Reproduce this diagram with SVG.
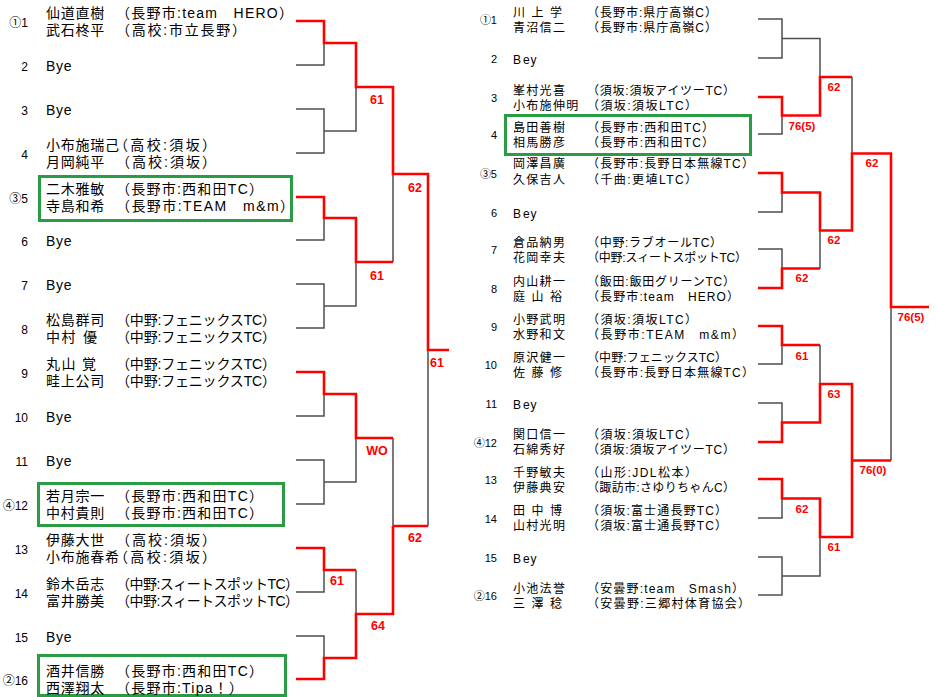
<svg xmlns="http://www.w3.org/2000/svg" width="938" height="697" viewBox="0 0 938 697">
<style>
text{font-family:"Liberation Sans","Noto Sans CJK JP","Noto Sans CJK SC",sans-serif;fill:#000}
.L{font-size:14px}
.R{font-size:12px}
.n{letter-spacing:0.75px}
.rn{letter-spacing:1.3px}
.num{font-size:12px;text-anchor:end}
.rnum{font-size:11px;text-anchor:end}
.sc{font-family:"Liberation Sans",Arial,sans-serif;font-weight:bold;fill:#ff0000;font-size:12.5px;text-anchor:middle}
.rsc{font-family:"Liberation Sans",Arial,sans-serif;font-weight:bold;fill:#ff0000;font-size:11.5px;text-anchor:middle}
.g{fill:none;stroke:#4d4d4d;stroke-width:1.5}
.w{fill:none;stroke:#ff0000;stroke-width:2.6}
.box{fill:none;stroke:#2a9d44;stroke-width:3}
</style>
<rect width="938" height="697" fill="#fff"/>
<g id="connectors">
<path class="g" d="M296,65H324V43M296,109H324V153H296M324,131H356V87M296,240H324V218M393,174V262M296,284H324V328H296M324,306H356V262M296,416H324V394M393,438V526M296,460H324V504H296M324,482H356V438M428,350V526M356,570V614M296,592H324V570M296,636H324V658"/>
<path class="w" d="M296,21H324V43H356V87H393V174H428V350H449M296,197H324V218H356V262H393M296,372H324V394H356V438H393M393,526H428M296,548H324V570H356M296,679H324V658H356V614H393V526"/>
<path class="g" d="M758,19H782V58H758M782,38.5H820V77M758,134H782V115.5M852,77V153.5M758,212H782V192.5M758,249H782V268.5M820,230.5V268.5M891,307V460.5M758,364H782V345M820,345V384M758,403H782V422.5M758,518H782V498.5M758,557H782V595H758M782,576H820V537"/>
<path class="w" d="M758,97H782V115.5H820V77H852M758,173H782V192.5H820V230.5H852V153.5H891V307H929M758,288H782V268.5H820M758,326H782V345H820M758,442H782V422.5H820V384H852V460.5H891M758,479H782V498.5H820V537H852V460.5"/>
</g>
<g id="scores">
<text class="sc" x="377" y="103.5">61</text>
<text class="sc" x="415" y="191.5">62</text>
<text class="sc" x="377" y="279.5">61</text>
<text class="sc" x="437" y="366.5">61</text>
<text class="sc" x="377" y="454.5">WO</text>
<text class="sc" x="415" y="541.5">62</text>
<text class="sc" x="337" y="584.5">61</text>
<text class="sc" x="378" y="629.5">64</text>
<text class="rsc" x="834" y="91">62</text>
<text class="rsc" x="802" y="130">76(5)</text>
<text class="rsc" x="872" y="167">62</text>
<text class="rsc" x="834" y="244">62</text>
<text class="rsc" x="802" y="282">62</text>
<text class="rsc" x="911" y="321">76(5)</text>
<text class="rsc" x="802" y="360">61</text>
<text class="rsc" x="834" y="398">63</text>
<text class="rsc" x="873" y="474">76(0)</text>
<text class="rsc" x="802" y="513">62</text>
<text class="rsc" x="834" y="551">61</text>
</g>
<g id="L1"><text class="num" x="28" y="26.5">①1</text><text class="L"><tspan class="n" x="46" y="18">仙道直樹</tspan><tspan x="116" y="18" textLength="177" lengthAdjust="spacing">（長野市:team　HERO）</tspan><tspan class="n" x="46" y="35">武石柊平</tspan><tspan x="116" y="35" textLength="130" lengthAdjust="spacing">（高校:市立長野）</tspan></text></g>
<g id="L2"><text class="num" x="28" y="70.5">2</text><text class="L n" x="46" y="71">Bye</text></g>
<g id="L3"><text class="num" x="28" y="114.5">3</text><text class="L n" x="46" y="115">Bye</text></g>
<g id="L4"><text class="num" x="28" y="158.5">4</text><text class="L"><tspan class="n" x="46" y="150">小布施瑞己</tspan><tspan x="114" y="150" textLength="102" lengthAdjust="spacing">（高校:須坂）</tspan><tspan class="n" x="46" y="167">月岡純平</tspan><tspan x="116" y="167" textLength="100" lengthAdjust="spacing">（高校:須坂）</tspan></text></g>
<g id="L5"><rect class="box" x="39.5" y="176.5" width="252" height="44"/><text class="num" x="28" y="202.5">③5</text><text class="L"><tspan class="n" x="46" y="194">二木雅敏</tspan><tspan x="116" y="194" textLength="147" lengthAdjust="spacing">（長野市:西和田TC）</tspan><tspan class="n" x="46" y="211">寺島和希</tspan><tspan x="116" y="211" textLength="178" lengthAdjust="spacing">（長野市:TEAM　m&amp;m）</tspan></text></g>
<g id="L6"><text class="num" x="28" y="245.5">6</text><text class="L n" x="46" y="246">Bye</text></g>
<g id="L7"><text class="num" x="28" y="289.5">7</text><text class="L n" x="46" y="290">Bye</text></g>
<g id="L8"><text class="num" x="28" y="333.5">8</text><text class="L"><tspan class="n" x="46" y="325">松島群司</tspan><tspan x="116" y="325" textLength="160" lengthAdjust="spacing">（中野:フェニックスTC）</tspan><tspan class="n" x="46 61.5 76 83" y="342">中村　優</tspan><tspan x="116" y="342" textLength="160" lengthAdjust="spacing">（中野:フェニックスTC）</tspan></text></g>
<g id="L9"><text class="num" x="28" y="377.5">9</text><text class="L"><tspan class="n" x="46 61.5 76 82" y="369">丸山　覚</tspan><tspan x="116" y="369" textLength="160" lengthAdjust="spacing">（中野:フェニックスTC）</tspan><tspan class="n" x="46" y="386">畦上公司</tspan><tspan x="116" y="386" textLength="160" lengthAdjust="spacing">（中野:フェニックスTC）</tspan></text></g>
<g id="L10"><text class="num" x="28" y="421.5">10</text><text class="L n" x="46" y="422">Bye</text></g>
<g id="L11"><text class="num" x="28" y="465.5">11</text><text class="L n" x="46" y="466">Bye</text></g>
<g id="L12"><rect class="box" x="38.5" y="483.5" width="245" height="42"/><text class="num" x="28" y="509.5">④12</text><text class="L"><tspan class="n" x="46" y="501">若月宗一</tspan><tspan x="116" y="501" textLength="147" lengthAdjust="spacing">（長野市:西和田TC）</tspan><tspan class="n" x="46" y="518">中村貴則</tspan><tspan x="116" y="518" textLength="147" lengthAdjust="spacing">（長野市:西和田TC）</tspan></text></g>
<g id="L13"><text class="num" x="28" y="553.5">13</text><text class="L"><tspan class="n" x="46" y="545">伊藤大世</tspan><tspan x="116" y="545" textLength="100" lengthAdjust="spacing">（高校:須坂）</tspan><tspan class="n" x="46" y="562">小布施春希</tspan><tspan x="114" y="562" textLength="102" lengthAdjust="spacing">（高校:須坂）</tspan></text></g>
<g id="L14"><text class="num" x="28" y="597.5">14</text><text class="L"><tspan class="n" x="46" y="589">鈴木岳志</tspan><tspan x="116" y="589" textLength="183" lengthAdjust="spacing">（中野:スィートスポットTC）</tspan><tspan class="n" x="46" y="606">富井勝美</tspan><tspan x="116" y="606" textLength="183" lengthAdjust="spacing">（中野:スィートスポットTC）</tspan></text></g>
<g id="L15"><text class="num" x="28" y="641.5">15</text><text class="L n" x="46" y="642">Bye</text></g>
<g id="L16"><rect class="box" x="38.5" y="655.5" width="247" height="40"/><text class="num" x="28" y="684.5">②16</text><text class="L"><tspan class="n" x="46" y="676">酒井信勝</tspan><tspan x="116" y="676" textLength="147" lengthAdjust="spacing">（長野市:西和田TC）</tspan><tspan class="n" x="46" y="693">西澤翔太</tspan><tspan x="116" y="693" textLength="127" lengthAdjust="spacing">（長野市:Tipa！）</tspan></text></g>
<g id="R1"><text class="rnum" x="497" y="24">①1</text><text class="R"><tspan class="rn" x="513 531.5 545 550" y="16.5">川上　学</tspan><tspan x="587" y="16.5" textLength="130" lengthAdjust="spacing">（長野市:県庁高嶺C）</tspan><tspan class="rn" x="513" y="31.5">青沼信二</tspan><tspan x="587" y="31.5" textLength="130" lengthAdjust="spacing">（長野市:県庁高嶺C）</tspan></text></g>
<g id="R2"><text class="rnum" x="497" y="63">2</text><text class="R rn" x="513 523 530.5" y="63.5">Bey</text></g>
<g id="R3"><text class="rnum" x="497" y="102">3</text><text class="R"><tspan class="rn" x="513" y="94.5">峯村光喜</tspan><tspan x="587" y="94.5" textLength="148" lengthAdjust="spacing">（須坂:須坂アイツーTC）</tspan><tspan class="rn" x="513" y="109.5">小布施伸明</tspan><tspan x="587" y="109.5" textLength="110" lengthAdjust="spacing">（須坂:須坂LTC）</tspan></text></g>
<g id="R4"><rect class="box" x="505.5" y="115.5" width="245" height="39"/><text class="rnum" x="497" y="139">4</text><text class="R"><tspan class="rn" x="513" y="131.5">島田善樹</tspan><tspan x="587" y="131.5" textLength="127" lengthAdjust="spacing">（長野市:西和田TC）</tspan><tspan class="rn" x="513" y="146.5">相馬勝彦</tspan><tspan x="587" y="146.5" textLength="127" lengthAdjust="spacing">（長野市:西和田TC）</tspan></text></g>
<g id="R5"><text class="rnum" x="497" y="178">③5</text><text class="R"><tspan class="rn" x="513" y="168">岡澤昌廣</tspan><tspan x="587" y="168" textLength="167" lengthAdjust="spacing">（長野市:長野日本無線TC）</tspan><tspan class="rn" x="513" y="184">久保吉人</tspan><tspan x="587" y="184" textLength="110" lengthAdjust="spacing">（千曲:更埴LTC）</tspan></text></g>
<g id="R6"><text class="rnum" x="497" y="217">6</text><text class="R rn" x="513 523 530.5" y="217.5">Bey</text></g>
<g id="R7"><text class="rnum" x="497" y="254">7</text><text class="R"><tspan class="rn" x="513" y="246.5">倉品納男</tspan><tspan x="587" y="246.5" textLength="135" lengthAdjust="spacing">（中野:ラブオールTC）</tspan><tspan class="rn" x="513" y="261.5">花岡幸夫</tspan><tspan x="587" y="261.5" textLength="160" lengthAdjust="spacing">（中野:スィートスポットTC）</tspan></text></g>
<g id="R8"><text class="rnum" x="497" y="293">8</text><text class="R"><tspan class="rn" x="513" y="285.5">内山耕一</tspan><tspan x="587" y="285.5" textLength="148" lengthAdjust="spacing">（飯田:飯田グリーンTC）</tspan><tspan class="rn" x="513 531.5 545 550" y="300.5">庭山　裕</tspan><tspan x="587" y="300.5" textLength="152" lengthAdjust="spacing">（長野市:team　HERO）</tspan></text></g>
<g id="R9"><text class="rnum" x="497" y="331">9</text><text class="R"><tspan class="rn" x="513" y="323.5">小野武明</tspan><tspan x="587" y="323.5" textLength="110" lengthAdjust="spacing">（須坂:須坂LTC）</tspan><tspan class="rn" x="513" y="338.5">水野和文</tspan><tspan x="587" y="338.5" textLength="157" lengthAdjust="spacing">（長野市:TEAM　m&amp;m）</tspan></text></g>
<g id="R10"><text class="rnum" x="497" y="369">10</text><text class="R"><tspan class="rn" x="513" y="361.5">原沢健一</tspan><tspan x="587" y="361.5" textLength="140" lengthAdjust="spacing">（中野:フェニックスTC）</tspan><tspan class="rn" x="513 531.5 545 550" y="376.5">佐藤　修</tspan><tspan x="587" y="376.5" textLength="167" lengthAdjust="spacing">（長野市:長野日本無線TC）</tspan></text></g>
<g id="R11"><text class="rnum" x="497" y="408">11</text><text class="R rn" x="513 523 530.5" y="408.5">Bey</text></g>
<g id="R12"><text class="rnum" x="497" y="447">④12</text><text class="R"><tspan class="rn" x="513" y="438.5">関口信一</tspan><tspan x="587" y="438.5" textLength="110" lengthAdjust="spacing">（須坂:須坂LTC）</tspan><tspan class="rn" x="513" y="453.5">石綿秀好</tspan><tspan x="587" y="453.5" textLength="148" lengthAdjust="spacing">（須坂:須坂アイツーTC）</tspan></text></g>
<g id="R13"><text class="rnum" x="497" y="484">13</text><text class="R"><tspan class="rn" x="513" y="476.5">千野敏夫</tspan><tspan x="587" y="476.5" textLength="110" lengthAdjust="spacing">（山形:JDL松本）</tspan><tspan class="rn" x="513" y="491.5">伊藤典安</tspan><tspan x="587" y="491.5" textLength="148" lengthAdjust="spacing">（諏訪市:さゆりちゃんC）</tspan></text></g>
<g id="R14"><text class="rnum" x="497" y="523">14</text><text class="R"><tspan class="rn" x="513 531.5 545 550" y="515">田中　博</tspan><tspan x="587" y="515" textLength="140" lengthAdjust="spacing">（須坂:富士通長野TC）</tspan><tspan class="rn" x="513" y="530">山村光明</tspan><tspan x="587" y="530" textLength="140" lengthAdjust="spacing">（須坂:富士通長野TC）</tspan></text></g>
<g id="R15"><text class="rnum" x="497" y="562">15</text><text class="R rn" x="513 523 530.5" y="562.5">Bey</text></g>
<g id="R16"><text class="rnum" x="497" y="600">②16</text><text class="R"><tspan class="rn" x="513" y="592.5">小池法誉</tspan><tspan x="587" y="592.5" textLength="157" lengthAdjust="spacing">（安曇野:team　Smash）</tspan><tspan class="rn" x="513 531.5 545 550" y="607.5">三澤　稔</tspan><tspan x="587" y="607.5" textLength="163" lengthAdjust="spacing">（安曇野:三郷村体育協会）</tspan></text></g>
</svg>
